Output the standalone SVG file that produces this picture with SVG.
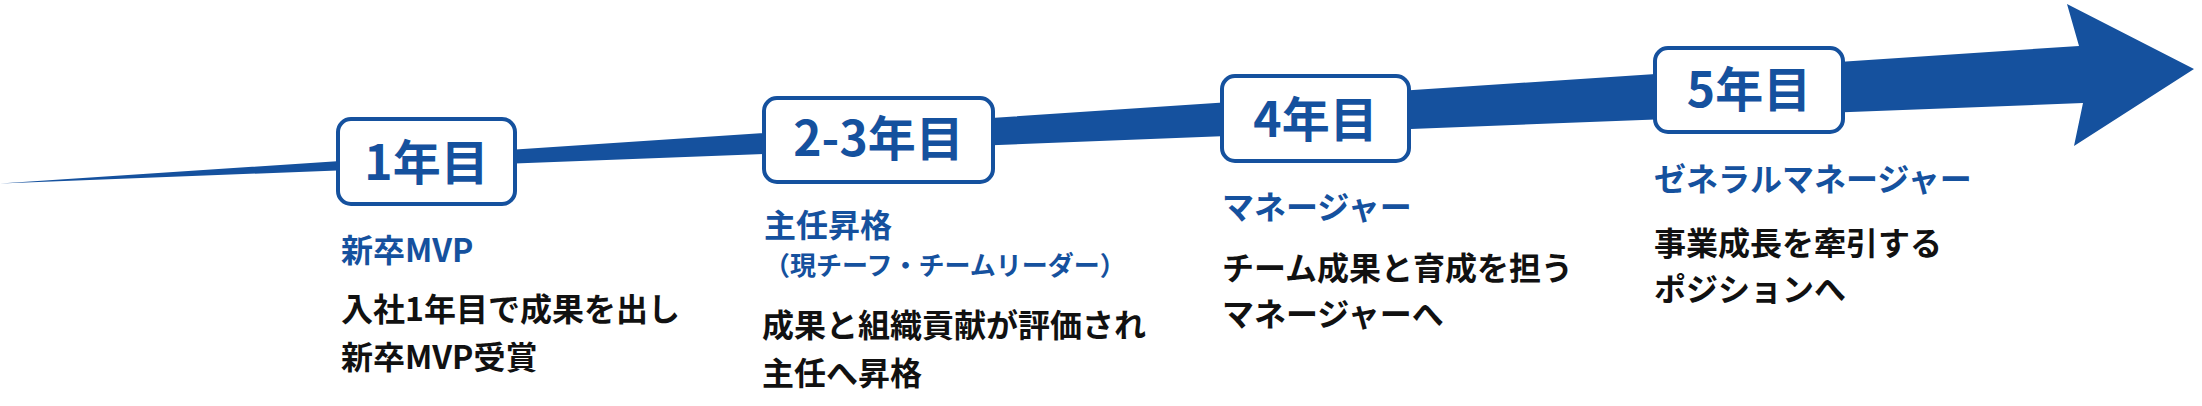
<svg xmlns="http://www.w3.org/2000/svg" width="2202" height="406" viewBox="0 0 2202 406">
  <style>
    .box { fill: #ffffff; stroke: #15519E; stroke-width: 4; }
    .year { font-family: "Noto Sans CJK JP", "Noto Sans", sans-serif; font-weight: 700; font-size: 48px; fill: #15519E; text-anchor: middle; }
    .role { font-family: "Noto Sans CJK JP", "Noto Sans", sans-serif; font-weight: 700; font-size: 32px; fill: #15519E; }
    .sub { font-family: "Noto Sans CJK JP", "Noto Sans", sans-serif; font-weight: 700; font-size: 26px; fill: #15519E; }
    .desc { font-family: "Noto Sans CJK JP", "Noto Sans", sans-serif; font-weight: 700; font-size: 32px; fill: #111111; }
  </style>
  <rect width="2202" height="406" fill="#ffffff"/>
  <g id="connectors">
    <polygon id="timeline-arrow" points="0,183.5 2079,46 2067,4 2194,69 2074,146 2083,103" fill="#15519E"/>
  </g>
  <g id="node-year1">
    <rect class="box" x="338" y="119" width="177" height="85" rx="13"/>
    <text class="year" x="426.5" y="180">1年目</text>
    <text class="role" x="341" y="262">新卒MVP</text>
    <text class="desc" x="341" y="321">入社1年目で成果を出し</text>
    <text class="desc" x="341" y="369">新卒MVP受賞</text>
  </g>
  <g id="node-year2-3">
    <rect class="box" x="764" y="98" width="229" height="84" rx="13"/>
    <text class="year" x="878.5" y="156">2-3年目</text>
    <text class="role" x="764" y="237">主任昇格</text>
    <text class="sub" x="764" y="275">（現チーフ・チームリーダー）</text>
    <text class="desc" x="762" y="337">成果と組織貢献が評価され</text>
    <text class="desc" x="762" y="385">主任へ昇格</text>
  </g>
  <g id="node-year4">
    <rect class="box" x="1222" y="76" width="187" height="85" rx="13"/>
    <text class="year" x="1315.5" y="137">4年目</text>
    <text class="role" x="1222" y="219">マネージャー</text>
    <text class="desc" x="1222" y="280">チーム成果と育成を担う</text>
    <text class="desc" x="1222" y="326">マネージャーへ</text>
  </g>
  <g id="node-year5">
    <rect class="box" x="1655" y="48" width="188" height="84" rx="13"/>
    <text class="year" x="1749" y="107">5年目</text>
    <text class="role" x="1654" y="191">ゼネラルマネージャー</text>
    <text class="desc" x="1654" y="255">事業成長を牽引する</text>
    <text class="desc" x="1654" y="301">ポジションへ</text>
  </g>
</svg>
